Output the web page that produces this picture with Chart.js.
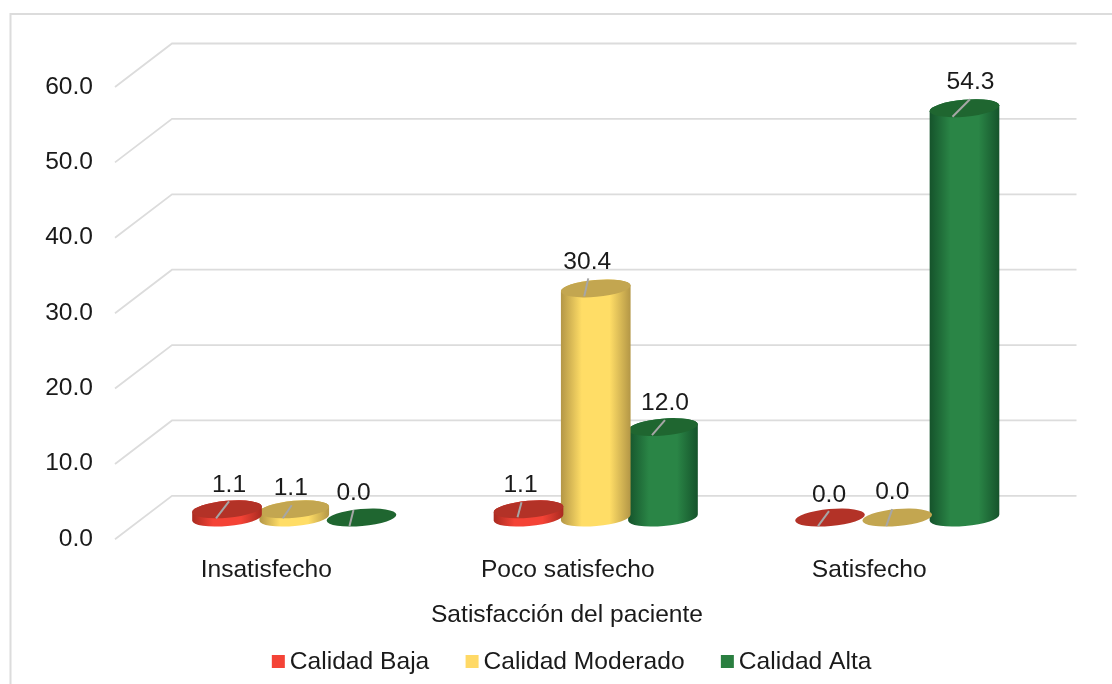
<!DOCTYPE html>
<html><head><meta charset="utf-8">
<style>html,body{margin:0;padding:0;background:#fff}#w{position:relative;width:1112px;height:684px}</style>
<script src="https://cdn.jsdelivr.net/npm/chart.js@4"></script>
</head><body><div id="w"><canvas id="c" width="1112" height="684"></canvas></div>
<script>
const categories = ["Insatisfecho", "Poco satisfecho", "Satisfecho"];
const calidadBaja = [1.1, 1.1, 0.0];
const calidadModerado = [1.1, 30.4, 0.0];
const calidadAlta = [0.0, 12.0, 54.3];
const yTicks = [0, 10, 20, 30, 40, 50, 60];
const axisTitle = "Satisfacción del paciente";

const FONT = "'Liberation Sans', Arial, sans-serif";
const FS = 24.6, INK = "#1a1a1a", GRID = "#dcdcdc";
const DEPTH = {dx: 28.5, dy: 21.75};
const TILT = -5 * Math.PI / 180, RY = 8.5;
const LOOK = [
  {edge: "#a82a20", mid: "#f44336", top: "#b33227"},
  {edge: "#b39646", mid: "#ffdd66", top: "#c3a650"},
  {edge: "#15532b", mid: "#2a8546", top: "#1f6630"}
];
// label and leader-line placement relative to each cylinder's top centre [dataset][category]
const LABEL_NUDGE = [
  [[2,-24,-11,9,2,-8],[-8,-24,-11,8,-7,-7],[-1,-22.5,-12,8.5,-1,-6.5]],
  [[-3.5,-21,-11.5,9,-2.5,-4],[-8.5,-26,-11.5,8,-7.5,-10],[-5,-25.5,-11,8.5,-5,-8.5]],
  [[-8,-24.5,-12,8.5,-8,-7.5],[2,-24,-11,8,2,-7],[6,-26,-12,8.5,5.5,-9]]
];

const cylinders = {
  id: "cylinders",
  beforeDraw(chart) {
    const {ctx} = chart;
    ctx.save();
    ctx.strokeStyle = GRID; ctx.lineWidth = 2;
    ctx.beginPath();
    ctx.moveTo(10.5, 700); ctx.lineTo(10.5, 14); ctx.lineTo(1112, 14);
    ctx.stroke();
    ctx.restore();
  },
  beforeDatasetsDraw(chart) {
    const {ctx, chartArea: a} = chart, y = chart.scales.y;
    ctx.save();
    ctx.strokeStyle = GRID; ctx.lineWidth = 1.8; ctx.lineJoin = "miter";
    yTicks.forEach(v => {
      const p = y.getPixelForValue(v);
      ctx.beginPath();
      ctx.moveTo(a.left - DEPTH.dx, p + DEPTH.dy);
      ctx.lineTo(a.left + DEPTH.dx, p - DEPTH.dy);
      ctx.lineTo(a.right + DEPTH.dx, p - DEPTH.dy);
      ctx.stroke();
    });
    ctx.restore();
  },
  beforeDatasetDraw(chart, args) {
    const {ctx} = chart, y0 = chart.scales.y.getPixelForValue(0), look = LOOK[args.index];
    args.meta.data.forEach(el => {
      const rx = el.width * 0.52, cx = el.x, top = el.y;
      ctx.save();
      if (y0 - top > 0.5) {
        const g = ctx.createLinearGradient(cx - rx, 0, cx + rx, 0);
        g.addColorStop(0, look.edge); g.addColorStop(0.3, look.mid);
        g.addColorStop(0.7, look.mid); g.addColorStop(1, look.edge);
        ctx.fillStyle = g;
        ctx.beginPath();
        ctx.ellipse(cx, y0, rx, RY, TILT, 0, Math.PI);
        ctx.ellipse(cx, top, rx, RY, TILT, Math.PI, Math.PI * 2);
        ctx.closePath();
        ctx.fill();
      }
      ctx.fillStyle = look.top;
      ctx.beginPath();
      ctx.ellipse(cx, top, rx, RY, TILT, 0, Math.PI * 2);
      ctx.fill();
      ctx.restore();
    });
    return false;
  },
  afterDatasetsDraw(chart) {
    const {ctx} = chart;
    ctx.save();
    chart.data.datasets.forEach((ds, i) => {
      chart.getDatasetMeta(i).data.forEach((el, j) => {
        const n = LABEL_NUDGE[i][j];
        ctx.strokeStyle = "#a6a6a6"; ctx.lineWidth = 2;
        ctx.beginPath();
        ctx.moveTo(el.x + n[2], el.y + n[3]);
        ctx.lineTo(el.x + n[4], el.y + n[5]);
        ctx.stroke();
        ctx.fillStyle = INK; ctx.font = FS + "px " + FONT;
        ctx.textAlign = "center"; ctx.textBaseline = "middle";
        ctx.fillText(ds.data[j].toFixed(1), el.x + n[0], el.y + n[1]);
      });
    });
    ctx.restore();
  },
  afterLayout(chart) {
    const t = chart.titleBlock, l = chart.legend;
    t.left = 0; t.right = 1134; t.top = 600; t.bottom = 630;
    l.left = 0; l.right = 1149; l.top = 662 - 12.3 - 42; l.bottom = 684;
  },
  afterDraw(chart) {
    // legend swatches sit closer to their text than the built-in box allows
    const {ctx} = chart, l = chart.legend, pad = 42, half = FS / 2;
    ctx.save();
    ctx.font = FS + "px " + FONT;
    const items = chart.data.datasets.map(d => half + ctx.measureText(d.label).width);
    const total = items.reduce((s, w) => s + w + pad, 0);
    let x = (l.left + pad + l.right - total) / 2;
    chart.data.datasets.forEach((d, i) => {
      ctx.fillStyle = d.backgroundColor;
      ctx.fillRect(x + half - 18, 655, 13, 13);
      x += items[i] + pad;
    });
    ctx.restore();
  }
};

new Chart(document.getElementById("c"), {
  type: "bar",
  data: {
    labels: categories,
    datasets: [
      {label: "Calidad Baja", data: calidadBaja, backgroundColor: "#f44336"},
      {label: "Calidad Moderado", data: calidadModerado, backgroundColor: "#ffd966"},
      {label: "Calidad Alta", data: calidadAlta, backgroundColor: "#2a7f40"}
    ]
  },
  plugins: [cylinders],
  options: {
    responsive: false,
    animation: false,
    layout: {padding: {left: 0, right: 64, top: 65, bottom: -3.7}},
    datasets: {bar: {categoryPercentage: 0.669, barPercentage: 1}},
    scales: {
      x: {
        grid: {display: false, drawTicks: false},
        border: {display: false},
        ticks: {color: INK, font: {family: FONT, size: FS}, padding: 38, labelOffset: -28},
        afterFit(s) { s.height = 64; }
      },
      y: {
        min: 0, max: 60,
        grid: {display: false, drawTicks: false},
        border: {display: false},
        afterBuildTicks(s) { s.ticks = yTicks.map(v => ({value: v})); },
        ticks: {color: INK, font: {family: FONT, size: FS}, padding: 50.5, labelOffset: 21.5, callback: v => Number(v).toFixed(1)},
        afterFit(s) { s.width = 143.5; }
      }
    },
    plugins: {
      tooltip: {enabled: false},
      title: {display: true, text: axisTitle, position: "bottom", color: INK, font: {family: FONT, size: FS, weight: "normal"}, padding: 0},
      legend: {
        display: true, position: "bottom",
        labels: {color: INK, font: {family: FONT, size: FS}, boxWidth: 0, boxHeight: 0, padding: 42}
      }
    }
  }
});
</script></body></html>
